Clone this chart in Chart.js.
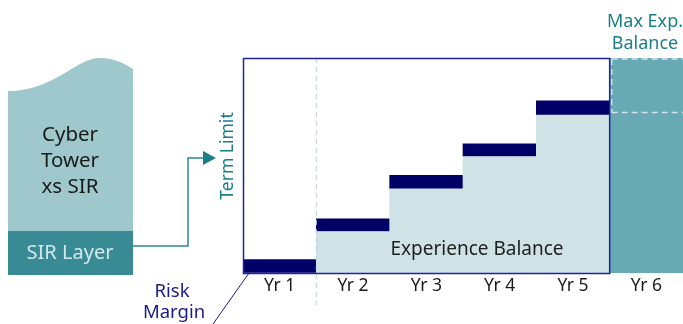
<!DOCTYPE html>
<html>
<head>
<meta charset="utf-8">
<script src="https://cdn.jsdelivr.net/npm/chart.js@4"></script>
<style>
  html, body { margin: 0; padding: 0; background: #fff; }
  #wrap { width: 683px; height: 324px; }
</style>
</head>
<body>
<div id="wrap"><canvas id="chart" width="683" height="324"></canvas></div>
<script>
// values (0 = axis, 100 = term limit)
const years = ["Yr 1", "Yr 2", "Yr 3", "Yr 4", "Yr 5", "Yr 6"];
const experienceBalance = [0, 19.3, 39.2, 54.2, 73.5, null];
const riskMargin = [6.2, 5.9, 6.2, 5.9, 6.6, null];
const maxExpBalance = [null, null, null, null, null, 100];
const maxExpDashLevel = 74.6;

const FONT = "'Noto Sans', 'Open Sans', sans-serif";
const NAVY = "#000066";
const TEAL = "#1a7f88";

// left side sketch + annotations, drawn around the bars
const diagram = {
    id: "diagram",
    beforeDatasetsDraw(chart) {
        const ctx = chart.ctx;
        ctx.save();

        // Cyber tower (wavy top)
        ctx.fillStyle = "#9fc8cd";
        ctx.beginPath();
        ctx.moveTo(8, 91);
        ctx.bezierCurveTo(55, 91, 75, 58, 100, 58);
        ctx.bezierCurveTo(115, 58, 125, 64, 133, 69);
        ctx.lineTo(133, 231);
        ctx.lineTo(8, 231);
        ctx.closePath();
        ctx.fill();

        // SIR layer
        ctx.fillStyle = "#388b94";
        ctx.fillRect(8, 231, 125, 44);

        ctx.textAlign = "center";
        ctx.textBaseline = "middle";
        ctx.fillStyle = "#1a1a1a";
        ctx.font = "20.5px " + FONT;
        ctx.fillText("Cyber", 70, 135);
        ctx.fillText("Tower", 70, 161);
        ctx.fillText("xs SIR", 70, 187);
        ctx.fillStyle = "#d3e8ea";
        ctx.font = "20px " + FONT;
        ctx.fillText("SIR Layer", 70, 253);

        // elbow arrow
        ctx.strokeStyle = "#2f8890";
        ctx.lineWidth = 1.5;
        ctx.beginPath();
        ctx.moveTo(133, 246);
        ctx.lineTo(188, 246);
        ctx.lineTo(188, 158);
        ctx.lineTo(205, 158);
        ctx.stroke();
        ctx.fillStyle = "#1a7f88";
        ctx.beginPath();
        ctx.moveTo(203, 151);
        ctx.lineTo(216, 158);
        ctx.lineTo(203, 165);
        ctx.closePath();
        ctx.fill();

        // Term Limit
        ctx.save();
        ctx.translate(228, 156);
        ctx.rotate(-Math.PI / 2);
        ctx.fillStyle = TEAL;
        ctx.font = "17.5px " + FONT;
        ctx.fillText("Term Limit", 0, 0);
        ctx.restore();

        // Max Exp. Balance label
        ctx.fillStyle = TEAL;
        ctx.font = "18px " + FONT;
        ctx.fillText("Max Exp.", 645, 22);
        ctx.fillText("Balance", 645, 44);

        // Risk Margin label + leader
        ctx.fillStyle = "#1a1a8c";
        ctx.font = "18.5px " + FONT;
        ctx.fillText("Risk", 172, 292);
        ctx.fillText("Margin", 174, 313);
        ctx.restore();
    },
    afterDatasetsDraw(chart) {
        const ctx = chart.ctx;
        const area = chart.chartArea;
        const x = chart.scales.x;
        const y = chart.scales.y;
        const colW = (area.right - area.left) / years.length;
        const yr6Left = x.getPixelForValue(5) - colW / 2;
        const yr2Left = x.getPixelForValue(1) - colW / 2;
        ctx.save();

        // dashed marks in the Yr 6 column
        ctx.strokeStyle = "#d6dff0";
        ctx.lineWidth = 1.5;
        ctx.setLineDash([6, 4]);
        const lvl = y.getPixelForValue(maxExpDashLevel);
        ctx.beginPath();
        ctx.moveTo(yr6Left + 2, area.top + 1);
        ctx.lineTo(area.right, area.top + 1);
        ctx.moveTo(yr6Left + 2, area.top + 1);
        ctx.lineTo(yr6Left + 2, lvl);
        ctx.moveTo(yr6Left + 2, lvl);
        ctx.lineTo(area.right, lvl);
        ctx.stroke();

        // Yr 1 / Yr 2 divider
        ctx.strokeStyle = "#b9cfea";
        ctx.lineWidth = 1;
        ctx.setLineDash([5, 4]);
        ctx.beginPath();
        ctx.moveTo(yr2Left, area.top);
        ctx.lineTo(yr2Left, 305);
        ctx.stroke();
        ctx.setLineDash([]);

        // term box outline
        ctx.strokeStyle = "#2222a0";
        ctx.lineWidth = 1.5;
        ctx.strokeRect(area.left + 0.5, area.top + 0.5, yr6Left - area.left - 0.5, area.bottom - area.top);

        // Risk Margin leader line
        ctx.strokeStyle = "#1a1a8c";
        ctx.lineWidth = 1;
        ctx.beginPath();
        ctx.moveTo(249, area.bottom);
        ctx.lineTo(213, 324);
        ctx.stroke();

        // Experience Balance label
        ctx.fillStyle = "#1e1e1e";
        ctx.font = "19px " + FONT;
        ctx.textAlign = "center";
        ctx.textBaseline = "middle";
        ctx.fillText("Experience Balance", 477, 250);
        ctx.restore();
    }
};

new Chart(document.getElementById("chart"), {
    type: "bar",
    data: {
        labels: years,
        datasets: [
            { label: "Experience Balance", data: experienceBalance, backgroundColor: "#cfe3e6" },
            { label: "Risk Margin", data: riskMargin, backgroundColor: NAVY },
            { label: "Max Exp. Balance", data: maxExpBalance, backgroundColor: "#68aab3" },
        ],
    },
    options: {
        responsive: false,
        animation: false,
        layout: { padding: { left: 243, top: 58, right: 0, bottom: 0 } },
        datasets: { bar: { barPercentage: 1, categoryPercentage: 1, borderWidth: 0 } },
        plugins: { legend: { display: false }, tooltip: { enabled: false }, title: { display: false } },
        scales: {
            x: {
                stacked: true,
                grid: { display: false, drawTicks: false },
                border: { display: false },
                ticks: { color: "#1a1a1a", font: { family: FONT, size: 17.5 }, padding: 3 },
                afterFit(scale) { scale.height = 51; },
            },
            y: {
                stacked: true,
                display: false,
                min: 0,
                max: 100,
            },
        },
    },
    plugins: [diagram],
});
</script>
</body>
</html>
